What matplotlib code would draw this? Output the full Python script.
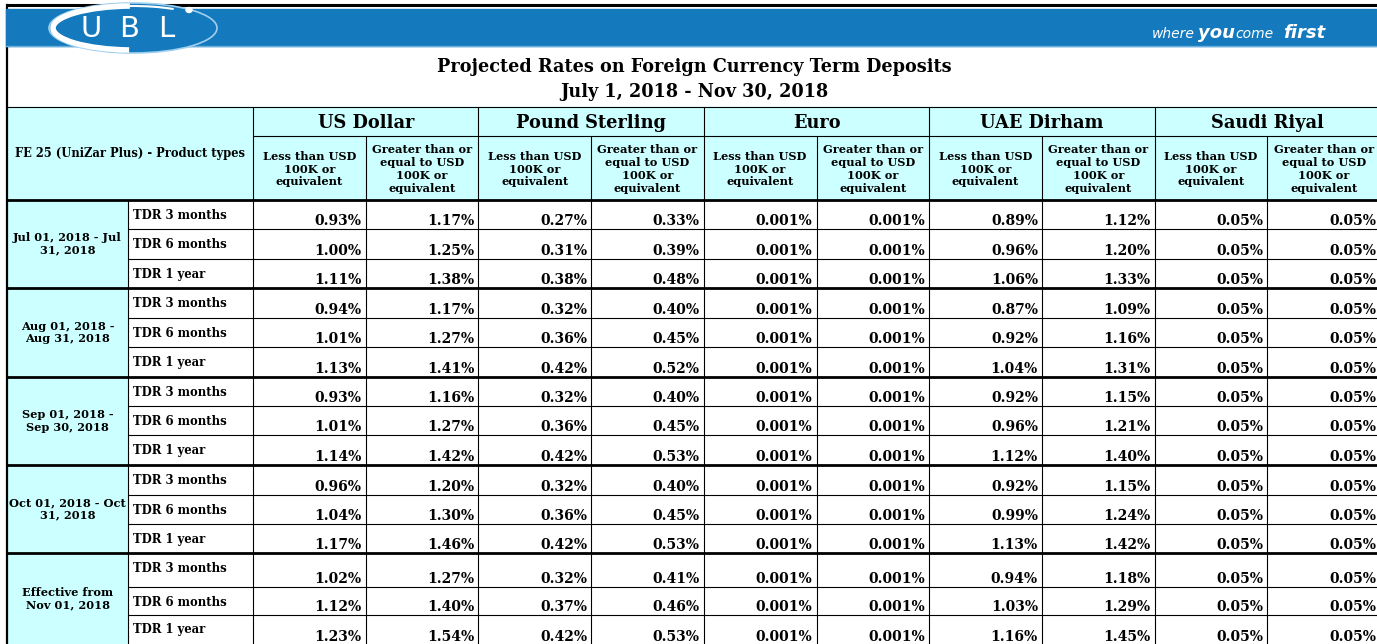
import matplotlib.pyplot as plt
from matplotlib.patches import Rectangle, Ellipse, Arc

# ---- data ----
title = "Projected Rates on Foreign Currency Term Deposits"
subtitle = "July 1, 2018 - Nov 30, 2018"
corner_label = "FE 25 (UniZar Plus) - Product types"
currencies = ["US Dollar", "Pound Sterling", "Euro", "UAE Dirham", "Saudi Riyal"]
tiers = ["Less than USD\n100K or\nequivalent", "Greater than or\nequal to USD\n100K or\nequivalent"]
periods = ["Jul 01, 2018 - Jul\n31, 2018", "Aug 01, 2018 -\nAug 31, 2018",
           "Sep 01, 2018 -\nSep 30, 2018", "Oct 01, 2018 - Oct\n31, 2018",
           "Effective from\nNov 01, 2018"]
products = ["TDR 3 months", "TDR 6 months", "TDR 1 year"]

usd_lt = [0.93, 1.00, 1.11, 0.94, 1.01, 1.13, 0.93, 1.01, 1.14, 0.96, 1.04, 1.17, 1.02, 1.12, 1.23]
usd_ge = [1.17, 1.25, 1.38, 1.17, 1.27, 1.41, 1.16, 1.27, 1.42, 1.20, 1.30, 1.46, 1.27, 1.40, 1.54]
gbp_lt = [0.27, 0.31, 0.38, 0.32, 0.36, 0.42, 0.32, 0.36, 0.42, 0.32, 0.36, 0.42, 0.32, 0.37, 0.42]
gbp_ge = [0.33, 0.39, 0.48, 0.40, 0.45, 0.52, 0.40, 0.45, 0.53, 0.40, 0.45, 0.53, 0.41, 0.46, 0.53]
eur_lt = [0.001] * 15
eur_ge = [0.001] * 15
aed_lt = [0.89, 0.96, 1.06, 0.87, 0.92, 1.04, 0.92, 0.96, 1.12, 0.92, 0.99, 1.13, 0.94, 1.03, 1.16]
aed_ge = [1.12, 1.20, 1.33, 1.09, 1.16, 1.31, 1.15, 1.21, 1.40, 1.15, 1.24, 1.42, 1.18, 1.29, 1.45]
sar_lt = [0.05] * 15
sar_ge = [0.05] * 15
series = [usd_lt, usd_ge, gbp_lt, gbp_ge, eur_lt, eur_ge, aed_lt, aed_ge, sar_lt, sar_ge]
decimals = [2, 2, 2, 2, 3, 3, 2, 2, 2, 2]

# ---- layout (pixels) ----
W, H = 1377, 644
blue = "#1479bd"
cyan = "#ccffff"
serif = "DejaVu Serif"

x_left = 7
x_period = 128
x_prod = 253
col_w = 112.7
col_x = [x_prod + i * col_w for i in range(11)]
y_top = 107
y_cur = 136
y_sub = 200
row_h = [29, 30, 29, 30, 29, 30, 29, 29, 30, 30, 29, 29, 34, 28, 30]
row_y = [y_sub]
for h in row_h:
    row_y.append(row_y[-1] + h)

fig = plt.figure(figsize=(W / 100, H / 100), dpi=100)
ax = fig.add_axes([0, 0, 1, 1])
ax.set_xlim(0, W)
ax.set_ylim(H, 0)
ax.axis("off")

# banner
ax.plot([6, W], [5, 5], color="black", lw=2.2, solid_capstyle="butt")
ax.add_patch(Rectangle((6, 9), W - 6, 37, color=blue, zorder=2))
ax.plot([6, W], [46, 46], color="#6aaede", lw=1, zorder=2)
ax.plot([x_left, x_left], [5, H], color="black", lw=1.6, zorder=1)

# logo
ax.add_patch(Ellipse((133, 28), 168, 50, facecolor=blue, edgecolor="#9fd0f0", lw=1.2, zorder=3))
ax.add_patch(Arc((133, 28), 160, 44, theta1=100, theta2=262, color="white", lw=4, zorder=4))
ax.add_patch(Arc((133, 28), 160, 44, theta1=262, theta2=335, color="white", lw=1.5, zorder=4))
ax.add_patch(Ellipse((189, 10), 6, 5, color="white", zorder=4))
for ch, lx in zip("UBL", [91, 129, 166]):
    ax.text(lx, 29, ch, color="white", fontsize=21, family="DejaVu Sans",
            ha="center", va="center", zorder=5)

# tagline
tag = [("where", 1152, 10, "normal"), ("you", 1198, 13, "bold"),
       ("come", 1235, 10, "normal"), ("first", 1283, 13, "bold")]
for word, tx, fs, fw in tag:
    ax.text(tx, 38, word, color="white", fontsize=fs, fontweight=fw, style="italic",
            family="DejaVu Sans", ha="left", va="baseline", zorder=5)

# titles
ax.text(694, 67, title, fontsize=12.7, fontweight="bold", family=serif, ha="center", va="center")
ax.text(694, 92, subtitle, fontsize=12.7, fontweight="bold", family=serif, ha="center", va="center")

# header fills
ax.add_patch(Rectangle((x_left, y_top), col_x[-1] - x_left, y_sub - y_top, color=cyan, zorder=0))
ax.add_patch(Rectangle((x_left, y_sub), x_period - x_left, row_y[-1] - y_sub, color=cyan, zorder=0))

ax.text((x_left + x_prod) / 2, (y_top + y_sub) / 2, corner_label, fontsize=8.3,
        fontweight="bold", family=serif, ha="center", va="center")
for i, cur in enumerate(currencies):
    ax.text((col_x[2 * i] + col_x[2 * i + 2]) / 2, (y_top + y_cur) / 2 + 1, cur,
            fontsize=12.8, fontweight="bold", family=serif, ha="center", va="center")
    for j in range(2):
        k = 2 * i + j
        ax.text((col_x[k] + col_x[k + 1]) / 2, (y_cur + y_sub) / 2 + 1, tiers[j],
                fontsize=8.2, fontweight="bold", family=serif, ha="center", va="center",
                linespacing=1.22)

# body text
for g, per in enumerate(periods):
    ax.text((x_left + x_period) / 2, (row_y[3 * g] + row_y[3 * g + 3]) / 2, per,
            fontsize=8.2, fontweight="bold", family=serif, ha="center", va="center",
            linespacing=1.15)
for r in range(15):
    top, bot = row_y[r], row_y[r + 1]
    ax.text(x_period + 5, top + 15, products[r % 3], fontsize=8.4, fontweight="bold",
            family=serif, ha="left", va="center")
    for k, vals in enumerate(series):
        ax.text(col_x[k + 1] - 4, bot - 8, f"{vals[r]:.{decimals[k]}f}%", fontsize=10,
                fontweight="bold", family=serif, ha="right", va="center")

# grid lines
thin, thick = 0.8, 2.0
ax.hlines(y_top, x_left, W, color="black", lw=thin)
ax.hlines(y_cur, x_prod, W, color="black", lw=thin)
ax.hlines(y_sub, x_left, W, color="black", lw=thick)
for r in range(1, 16):
    if r % 3 == 0:
        ax.hlines(row_y[r], x_left, W, color="black", lw=thick)
    else:
        ax.hlines(row_y[r], x_period, W, color="black", lw=thin)
ax.vlines(x_period, y_sub, H, color="black", lw=thin)
for i, cx in enumerate(col_x):
    y0 = y_top if i % 2 == 0 else y_cur
    ax.vlines(cx, y0, H, color="black", lw=thin)

fig.savefig("out.png", dpi=100)
